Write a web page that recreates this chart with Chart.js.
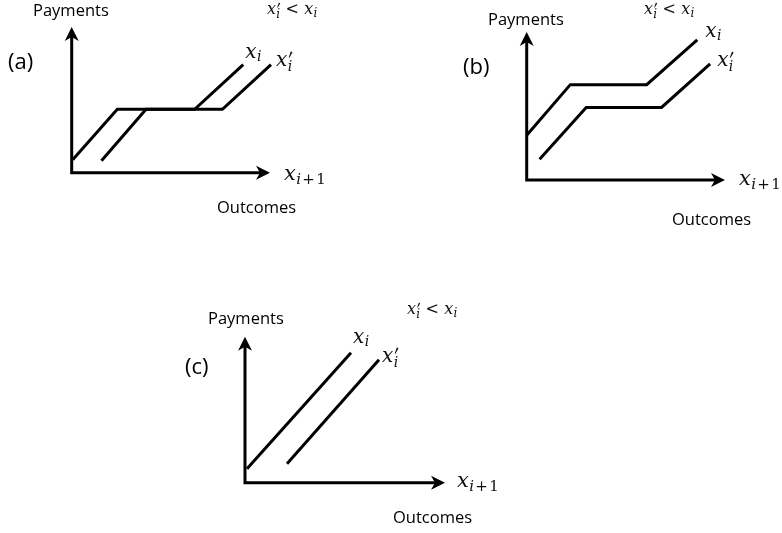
<!DOCTYPE html>
<html>
<head>
<meta charset="utf-8">
<title>Payments and outcomes</title>
<script src="https://cdn.jsdelivr.net/npm/chart.js@4.4.1/dist/chart.umd.min.js"></script>
<style>
  html, body { margin: 0; padding: 0; background: #fff; }
  #wrap { position: relative; width: 782px; height: 533px; overflow: hidden; }
  #wrap canvas { position: absolute; left: 0; top: 0; }
</style>
</head>
<body>
<div id="wrap">
  <canvas id="panelA" width="782" height="533"></canvas>
  <canvas id="panelB" width="782" height="533"></canvas>
  <canvas id="panelC" width="782" height="533"></canvas>
</div>
<script>
// ---- data: outcome (x) and payment (y) for each schedule ----
const panelNames = ['(a)', '(b)', '(c)'];
const axisTitleY = 'Payments';
const axisTitleX = 'Outcomes';

// (a) schedules share a flat band; x'_i is shifted right
const aOutcomeXi  = [0.1, 4.6, 12.4, 17.3];
const aPaymentXi  = [1.3, 6.4, 6.4, 10.9];
const aOutcomeXpi = [3.0, 7.5, 15.2, 20.1];
const aPaymentXpi = [1.2, 6.4, 6.4, 10.9];

// (b) x'_i schedule sits lower and to the right
const bOutcomeXi  = [0.0, 4.4, 12.1, 17.2];
const bPaymentXi  = [4.5, 9.6, 9.6, 14.1];
const bOutcomeXpi = [1.3, 6.0, 13.6, 18.5];
const bPaymentXpi = [2.1, 7.3, 7.3, 11.7];

// (c) straight-line schedules
const cOutcomeXi  = [0.2, 10.6];
const cPaymentXi  = [1.4, 13.0];
const cOutcomeXpi = [4.2, 13.4];
const cPaymentXpi = [1.9, 12.3];

// axis extents (data units)
const outcomeMax = [20, 20, 20];
const paymentMax = [14.7, 14.9, 14.6];

// ---- helpers ----
function pts(xs, ys) { return xs.map((x, i) => ({ x: x, y: ys[i] })); }

const SANS = '"Open Sans", "Lato", sans-serif';
const SERIF = '"DejaVu Serif", "Liberation Serif", serif';

// draws x with optional prime and subscript; returns the advance width
function drawVar(ctx, x, y, size, sub, prime) {
  ctx.font = 'italic ' + size + 'px ' + SERIF;
  ctx.fillText('x', x, y);
  const w = ctx.measureText('x').width;
  const ss = Math.round(size * 0.72);
  let end = x + w;
  if (prime) {
    // slanted prime stroke above the subscript
    const px = x + w + size * 0.08, top = y - size * 0.72, bot = y - size * 0.4;
    ctx.beginPath();
    ctx.moveTo(px + size * 0.1, top);
    ctx.lineTo(px + size * 0.18, top + 1);
    ctx.lineTo(px + size * 0.03, bot);
    ctx.lineTo(px - size * 0.01, bot);
    ctx.closePath();
    ctx.fill();
    end = Math.max(end, px + size * 0.2);
  }
  if (sub) {
    let sx = x + w + size * 0.02;
    const sy = y + size * (prime ? 0.27 : 0.17);
    for (const ch of sub) {
      const italic = /[a-z]/.test(ch);
      const pad = ch === '+' ? size * 0.06 : 0;
      ctx.font = (italic ? 'italic ' : '') + ss + 'px ' + SERIF;
      ctx.fillText(ch, sx + pad, sy);
      sx += ctx.measureText(ch).width + 2 * pad;
    }
    end = Math.max(end, sx);
  }
  return end - x;
}

function drawRelation(ctx, x, y, size) {
  let cx = x;
  cx += drawVar(ctx, cx, y, size, 'i', true);
  ctx.font = size + 'px ' + SERIF;
  cx += size * 0.32;
  ctx.fillText('<', cx, y);
  cx += ctx.measureText('<').width + size * 0.32;
  drawVar(ctx, cx, y, size, 'i', false);
}

function arrowHead(ctx, tipX, tipY, dirX, dirY) {
  const len = 14, half = 7, notch = 4;
  const px = -dirY, py = dirX;
  ctx.beginPath();
  ctx.moveTo(tipX, tipY);
  ctx.lineTo(tipX - dirX * len + px * half, tipY - dirY * len + py * half);
  ctx.lineTo(tipX - dirX * (len - notch), tipY - dirY * (len - notch));
  ctx.lineTo(tipX - dirX * len - px * half, tipY - dirY * len - py * half);
  ctx.closePath();
  ctx.fill();
}

// axes with arrowheads plus panel text
const decorPlugin = {
  id: 'panelDecor',
  beforeDatasetsDraw(chart, args, opts) {
    const ctx = chart.ctx;
    const xs = chart.scales.x, ys = chart.scales.y;
    const x0 = xs.getPixelForValue(0), y0 = ys.getPixelForValue(0);
    const xTip = xs.getPixelForValue(xs.max), yTip = ys.getPixelForValue(ys.max);
    ctx.save();
    ctx.strokeStyle = '#000';
    ctx.fillStyle = '#000';
    ctx.lineWidth = 3;
    ctx.lineJoin = 'miter';
    ctx.lineCap = 'butt';
    ctx.beginPath();
    ctx.moveTo(x0, yTip + 8);
    ctx.lineTo(x0, y0);
    ctx.lineTo(xTip - 8, y0);
    ctx.stroke();
    arrowHead(ctx, x0, yTip, 0, -1);
    arrowHead(ctx, xTip, y0, 1, 0);
    ctx.restore();
  },
  afterDatasetsDraw(chart, args, opts) {
    const ctx = chart.ctx;
    const t = opts.text;
    ctx.save();
    ctx.fillStyle = '#000';
    ctx.textBaseline = 'alphabetic';
    ctx.textAlign = 'left';
    ctx.font = '500 16.5px ' + SANS;
    ctx.fillText(axisTitleY, t.yTitle[0], t.yTitle[1]);
    ctx.fillText(axisTitleX, t.xTitle[0], t.xTitle[1]);
    ctx.font = '500 22px ' + SANS;
    ctx.fillText(t.name, t.tag[0], t.tag[1]);
    ctx.fillStyle = '#111';
    drawVar(ctx, t.xVar[0], t.xVar[1], 21, 'i+1', false);
    drawRelation(ctx, t.rel[0], t.rel[1], 16);
    // series names next to the last point of each line
    chart.data.datasets.forEach((ds, k) => {
      const meta = chart.getDatasetMeta(k);
      const last = meta.data[meta.data.length - 1];
      const off = t.seriesOffset[k];
      drawVar(ctx, last.x + off[0], last.y + off[1], 20, 'i', ds.prime);
    });
    ctx.restore();
  }
};

function makePanel(id, idx, box, xi, xpi, text) {
  const lineStyle = {
    borderColor: '#000', borderWidth: 3, pointRadius: 0, tension: 0,
    fill: false, clip: false, borderJoinStyle: 'miter', borderCapStyle: 'butt'
  };
  return new Chart(document.getElementById(id), {
    type: 'line',
    data: {
      datasets: [
        Object.assign({ label: 'x_i', prime: false, data: xi }, lineStyle),
        Object.assign({ label: "x'_i", prime: true, data: xpi }, lineStyle)
      ]
    },
    options: {
      responsive: false,
      animation: false,
      events: [],
      layout: { padding: { left: box[0], top: box[1], right: 782 - box[2], bottom: 533 - box[3] } },
      scales: {
        x: { type: 'linear', display: false, min: 0, max: outcomeMax[idx] },
        y: { type: 'linear', display: false, min: 0, max: paymentMax[idx] }
      },
      plugins: {
        legend: { display: false },
        tooltip: { enabled: false },
        panelDecor: { text: Object.assign({ name: panelNames[idx] }, text) }
      }
    },
    plugins: [decorPlugin]
  });
}

// plot boxes: [left, top, right, bottom] in page pixels
makePanel('panelA', 0, [71.7, 27, 270, 172.7],
  pts(aOutcomeXi, aPaymentXi), pts(aOutcomeXpi, aPaymentXpi),
  { yTitle: [33, 15.5], tag: [8, 69], xVar: [284, 180], xTitle: [217, 213], rel: [267, 14],
    seriesOffset: [[2, -7], [5, 1]] });

makePanel('panelB', 1, [526.7, 32, 725, 180],
  pts(bOutcomeXi, bPaymentXi), pts(bOutcomeXpi, bPaymentXpi),
  { yTitle: [488, 25], tag: [463, 74], xVar: [739, 185], xTitle: [672, 225], rel: [644, 14],
    seriesOffset: [[8, -3], [7, 2]] });

makePanel('panelC', 2, [245, 336.7, 445, 482.7],
  pts(cOutcomeXi, cPaymentXi), pts(cOutcomeXpi, cPaymentXpi),
  { yTitle: [208, 323.5], tag: [185, 374], xVar: [457, 487], xTitle: [393, 523], rel: [407, 314],
    seriesOffset: [[2, -10], [3, 2]] });
</script>
</body>
</html>
